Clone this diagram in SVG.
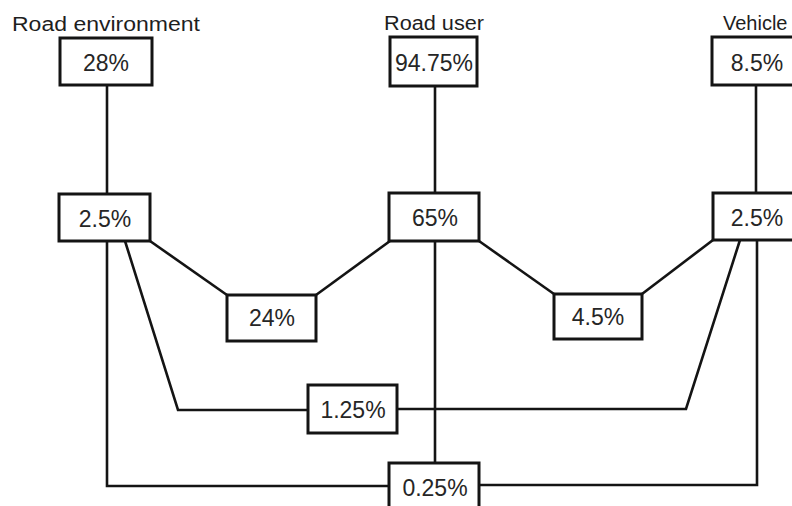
<svg xmlns="http://www.w3.org/2000/svg" width="792" height="506" viewBox="0 0 792 506">
<style>
.box{fill:#fff;stroke:#141414;stroke-width:3}
.val{font-family:"Liberation Sans",Arial,sans-serif;font-size:23px;fill:#262626;text-anchor:middle}
.lbl{font-family:"Liberation Sans",Arial,sans-serif;font-size:20px;fill:#1e1e1e}
.con{fill:none;stroke:#141414;stroke-width:2.6;stroke-linejoin:miter}
</style>
<rect width="792" height="506" fill="#fff"/>
<g id="labels">
<text class="lbl" x="12" y="31" textLength="188" lengthAdjust="spacingAndGlyphs">Road environment</text>
<text class="lbl" x="384" y="30" textLength="100" lengthAdjust="spacingAndGlyphs">Road user</text>
<text class="lbl" x="723" y="30">Vehicle</text>
</g>
<g id="connectors">
<path class="con" d="M107,85V194"/>
<path class="con" d="M435,86V193"/>
<path class="con" d="M756,85V193"/>
<path class="con" d="M150,241L227,295"/>
<path class="con" d="M316,295L390,241"/>
<path class="con" d="M479,241L554,294"/>
<path class="con" d="M642,294L713,240"/>
<path class="con" d="M107,241V486H389"/>
<path class="con" d="M125,241L178,410H308"/>
<path class="con" d="M397,409H686L740,240"/>
<path class="con" d="M435,241V463"/>
<path class="con" d="M757,240V485H479"/>
</g>
<g id="n-28"><rect class="box" x="60" y="38" width="92" height="47"/><text class="val" x="106" y="71">28%</text></g>
<g id="n-94"><rect class="box" x="390" y="37" width="87" height="49"/><text class="val" x="434" y="71">94.75%</text></g>
<g id="n-85"><rect class="box" x="712" y="37" width="92" height="48"/><text class="val" x="757" y="71">8.5%</text></g>
<g id="n-25l"><rect class="box" x="59" y="194" width="91" height="47"/><text class="val" x="105" y="227">2.5%</text></g>
<g id="n-65"><rect class="box" x="389" y="193" width="90" height="48"/><text class="val" x="435" y="226">65%</text></g>
<g id="n-25r"><rect class="box" x="713" y="193" width="92" height="47"/><text class="val" x="757" y="226">2.5%</text></g>
<g id="n-24"><rect class="box" x="227" y="295" width="89" height="46"/><text class="val" x="272" y="326">24%</text></g>
<g id="n-45"><rect class="box" x="554" y="294" width="88" height="45"/><text class="val" x="598" y="325">4.5%</text></g>
<g id="n-125"><rect class="box" x="308" y="385" width="89" height="48"/><text class="val" x="353" y="418">1.25%</text></g>
<g id="n-025"><rect class="box" x="389" y="463" width="90" height="55"/><text class="val" x="435" y="496">0.25%</text></g>
</svg>
